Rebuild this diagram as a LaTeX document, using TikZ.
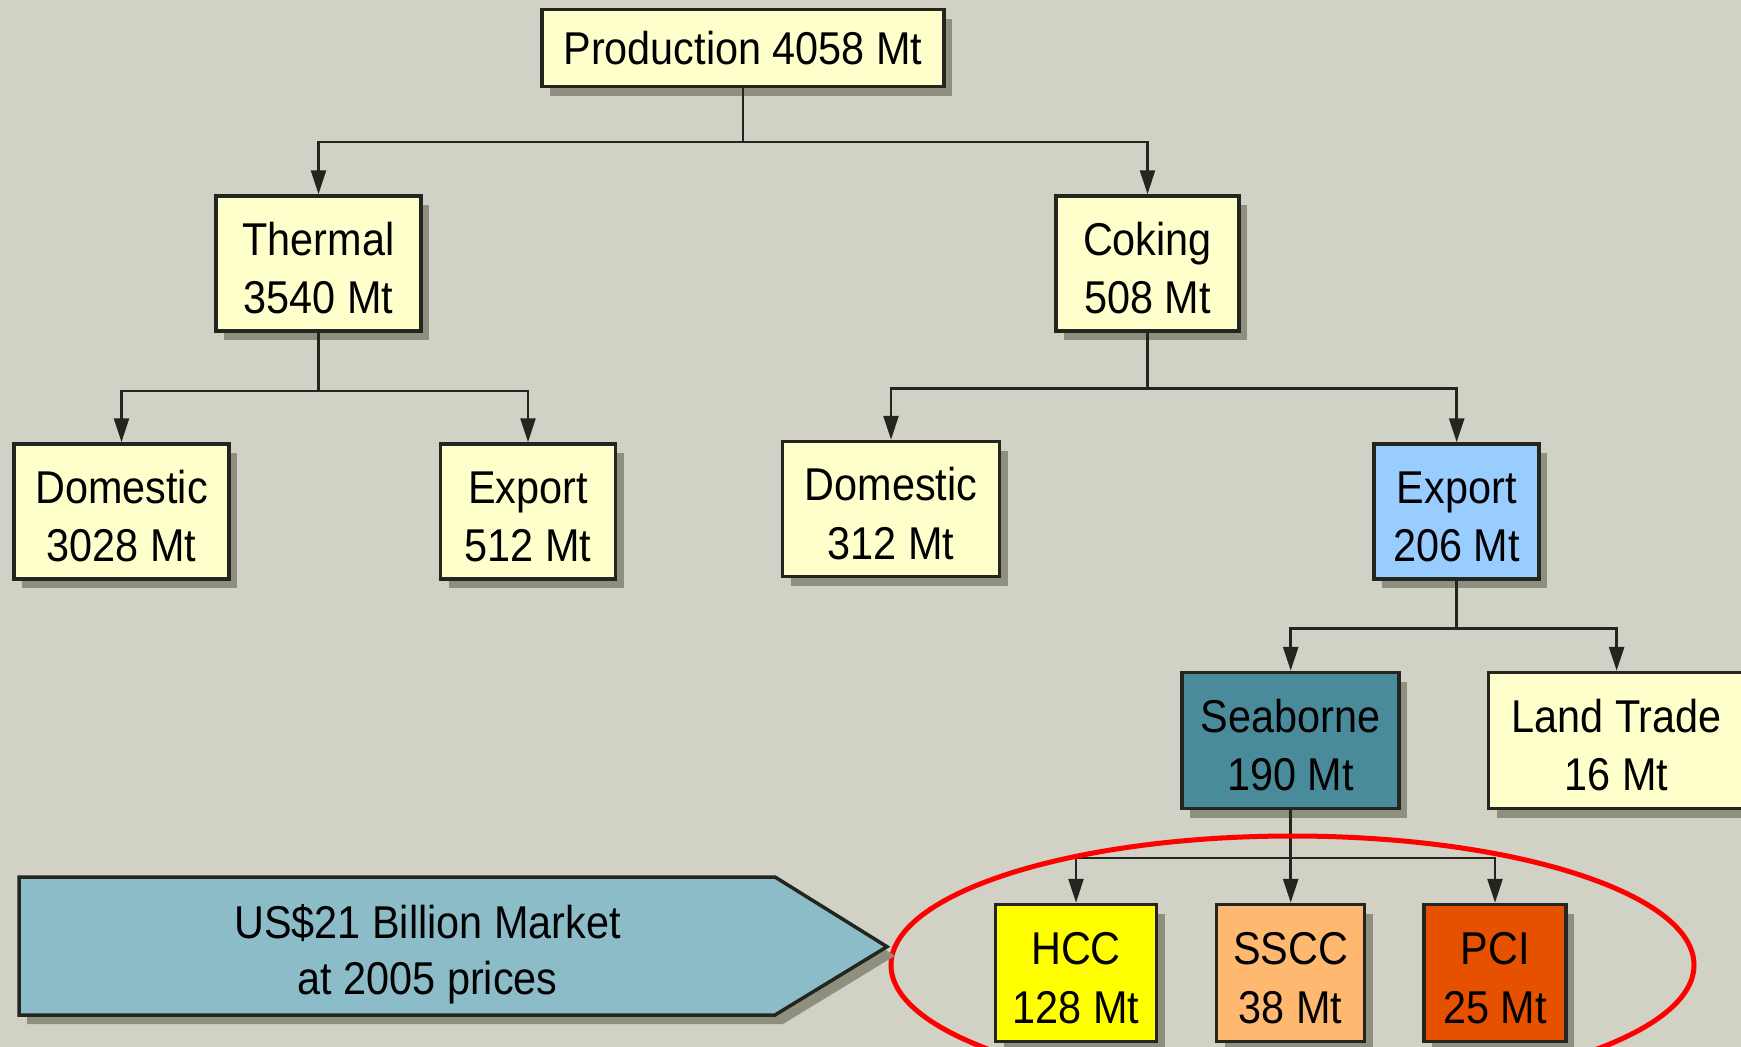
\documentclass[tikz,border=0pt]{standalone}
\usepackage{fontspec}
\setmainfont{Liberation Sans}[FakeStretch=0.9]
\usetikzlibrary{arrows.meta,shadows}
\definecolor{bg}{HTML}{D1D1C5}
\definecolor{boxy}{HTML}{FFFFCC}
\definecolor{edge}{HTML}{23261F}
\definecolor{shad}{HTML}{8F8F7F}
\definecolor{blu}{HTML}{99CCFF}
\definecolor{tealbox}{HTML}{4A8B9B}
\definecolor{hccc}{HTML}{FFFF00}
\definecolor{ssccc}{HTML}{FFB870}
\definecolor{pcic}{HTML}{E65100}
\definecolor{mkt}{HTML}{8BBCC8}
\begin{document}
\begin{tikzpicture}[x=1pt,y=-1pt,
  box/.style={draw=edge, line width=3.5pt, fill=boxy, align=center, inner sep=0pt,
    font=\fontsize{46}{58.5}\selectfont, text height=101pt,
    drop shadow={shadow xshift=8pt, shadow yshift=-9pt, fill=shad, opacity=1}},
  conn/.style={draw=edge, line width=2.7pt},
  arr/.style={conn, -{Triangle[length=24pt,width=15pt]}}]
\useasboundingbox (0,0) rectangle (1741,1047);
\fill[bg] (0,0) rectangle (1741,1047);
\clip (0,0) rectangle (1741,1047);

% nodes
\node[box, text height=34pt, minimum width=402, minimum height=77] (prod) at (743,48) {Production 4058 Mt};
\node[box, minimum width=205, minimum height=135] (thermal) at (318.5,263.5) {Thermal\\3540 Mt};
\node[box, minimum width=183, minimum height=135] (coking) at (1147.5,263.5) {Coking\\508 Mt};
\node[box, minimum width=215, minimum height=135] (dom1) at (121.5,511.5) {Domestic\\3028 Mt};
\node[box, minimum width=175, minimum height=135] (exp1) at (528,511.5) {Export\\512 Mt};
\node[box, minimum width=217, minimum height=135] (dom2) at (891,509) {Domestic\\312 Mt};
\node[box, fill=blu, minimum width=165, minimum height=135] (exp2) at (1456.7,511.5) {Export\\206 Mt};
\node[box, fill=tealbox, minimum width=217, minimum height=136] (sea) at (1290.7,740.5) {Seaborne\\190 Mt};
\node[box, minimum width=256, minimum height=136] (land) at (1616.6,740.5) {Land Trade\\16 Mt};
\node[box, fill=hccc, minimum width=161, minimum height=137] (hcc) at (1076,973) {HCC\\128 Mt};
\node[box, fill=ssccc, minimum width=148, minimum height=137] (sscc) at (1290.7,973) {SSCC\\38 Mt};
\node[box, fill=pcic, minimum width=142, minimum height=137] (pci) at (1495,973) {PCI\\25 Mt};

% connectors
\coordinate (j1) at (prod.south |- 0,142);
\draw[conn] (prod.south) -- (j1);
\draw[arr] (j1) -| (thermal.north);
\draw[arr] (j1) -| (coking.north);

\coordinate (j2) at (thermal.south |- 0,391);
\draw[conn] (thermal.south) -- (j2);
\draw[arr] (j2) -| (dom1.north);
\draw[arr] (j2) -| (exp1.north);

\coordinate (j3) at (coking.south |- 0,388.6);
\draw[conn] (coking.south) -- (j3);
\draw[arr] (j3) -| (dom2.north);
\draw[arr] (j3) -| (exp2.north);

\coordinate (j4) at (exp2.south |- 0,628.4);
\draw[conn] (exp2.south) -- (j4);
\draw[arr] (j4) -| (sea.north);
\draw[arr] (j4) -| (land.north);

\coordinate (j5) at (sea.south |- 0,858);
\draw[conn] (sea.south) -- (j5);
\draw[arr] (j5) -| (hcc.north);
\draw[arr] (j5) -- (sscc.north);
\draw[arr] (j5) -| (pci.north);

% red ellipse
\draw[red, line width=5pt] (1292.5,965) ellipse [x radius=401.5, y radius=129];

% market arrow
\fill[shad, shift={(8,9)}] (19,877) -- (775,877) -- (887,946.7) -- (775,1015) -- (19,1015) -- cycle;
\draw[edge, fill=mkt, line width=3.5pt, line join=miter] (19,877) -- (775,877) -- (887,946.7) -- (775,1015) -- (19,1015) -- cycle;
\node[align=center, font=\fontsize{46}{56}\selectfont, text height=98pt, inner sep=0pt] (mk) at (427.5,950) {US\$21 Billion Market\\at 2005 prices};
\end{tikzpicture}
\end{document}
